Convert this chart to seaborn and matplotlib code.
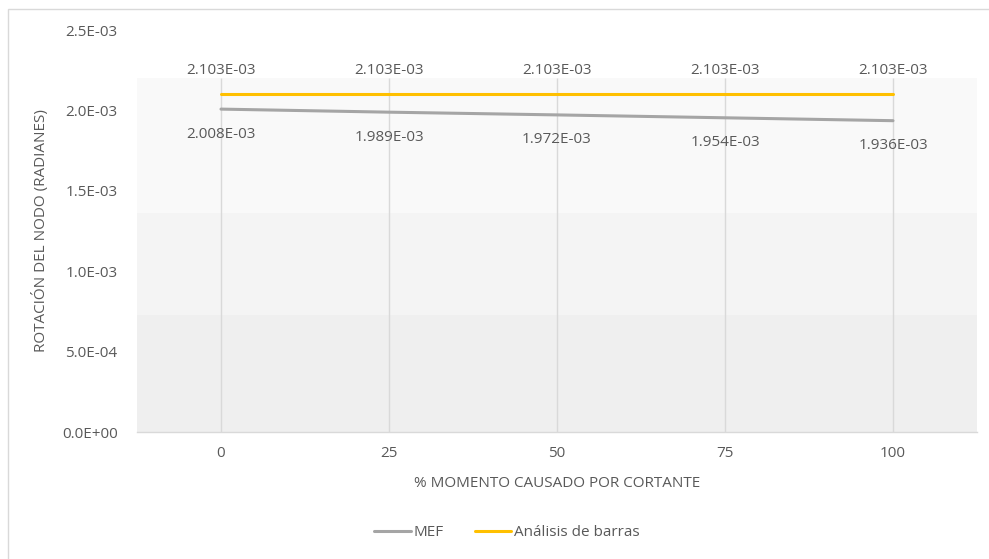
import pandas as pd
import matplotlib.pyplot as plt
import seaborn as sns
from matplotlib.patches import Rectangle

## data
momento = [0, 25, 50, 75, 100]
mef = [2.008e-3, 1.989e-3, 1.972e-3, 1.954e-3, 1.936e-3]
barras = [2.103e-3, 2.103e-3, 2.103e-3, 2.103e-3, 2.103e-3]
series_names = ["MEF", "Análisis de barras"]
y_ticks = [0, 5e-4, 1e-3, 1.5e-3, 2e-3, 2.5e-3]

colors = {"MEF": "#a5a5a5", "Análisis de barras": "#ffc000"}
txt = "#595959"
fs = 11


def sci(v):
    # excel style 0.000E+00
    m, e = f"{v:.3E}".split("E")
    return m + "E" + e[0] + e[1:].zfill(2)


df = pd.DataFrame({"x": momento * 2,
                   "y": mef + barras,
                   "serie": [series_names[0]] * 5 + [series_names[1]] * 5})

sns.set_style("white")
plt.rcParams["font.family"] = ["Open Sans", "DejaVu Sans"]

fig = plt.figure(figsize=(9.89, 5.59), dpi=100)
ax = fig.add_axes([137 / 989, 1 - 432 / 559, 840 / 989, 402 / 559])

# chart border
fig.patches.append(Rectangle((8 / 989, -0.01), 1.0, 1 - 9 / 559 + 0.01,
                             transform=fig.transFigure, fill=False,
                             edgecolor="#d9d9d9", linewidth=1.0))

# background bands of the plot area
ax.axhspan(0, 7.28e-4, color="#efefef", zorder=0, lw=0)
ax.axhspan(7.28e-4, 1.362e-3, color="#f4f4f4", zorder=0, lw=0)
ax.axhspan(1.362e-3, 2.2e-3, color="#f9f9f9", zorder=0, lw=0)

# vertical gridlines
ax.vlines(momento, 0, 2.2e-3, color="#d9d9d9", lw=1.0, zorder=1)

sns.lineplot(data=df, x="x", y="y", hue="serie", palette=colors, ax=ax,
             linewidth=2.2, legend=False, zorder=3)

# data labels
for x, v in zip(momento, barras):
    ax.annotate(sci(v), (x, v), xytext=(0, 17), textcoords="offset points",
                ha="center", va="center", fontsize=fs, color=txt)
for x, v in zip(momento, mef):
    ax.annotate(sci(v), (x, v), xytext=(0, -18), textcoords="offset points",
                ha="center", va="center", fontsize=fs, color=txt)

ax.set_xlim(-12.5, 112.5)
ax.set_ylim(0, 2.5e-3)
ax.set_xticks(momento)
ax.set_xticklabels([str(m) for m in momento])
ax.set_yticks(y_ticks)
ax.set_yticklabels([f"{t:.1E}" for t in y_ticks])
ax.tick_params(axis="both", length=0, labelsize=fs, labelcolor=txt)
ax.tick_params(axis="y", pad=14)
ax.tick_params(axis="x", pad=10)

for s in ["top", "right", "left"]:
    ax.spines[s].set_visible(False)
ax.spines["bottom"].set_color("#d9d9d9")
ax.spines["bottom"].set_linewidth(1.0)
ax.patch.set_visible(False)

ax.set_xlabel("% MOMENTO CAUSADO POR CORTANTE", fontsize=fs, color=txt, labelpad=11)
ax.set_ylabel("ROTACIÓN DEL NODO (RADIANES)", fontsize=fs, color=txt, labelpad=9)

handles = [plt.Line2D([], [], color=colors[n], lw=2.2) for n in series_names]
fig.legend(handles, series_names, loc="center", bbox_to_anchor=(507 / 989, 1 - 533 / 559),
           ncol=2, frameon=False, fontsize=fs, handlelength=2.4, handletextpad=0.2,
           columnspacing=2.0, labelcolor=txt)

fig.savefig("out.png", dpi=100)
